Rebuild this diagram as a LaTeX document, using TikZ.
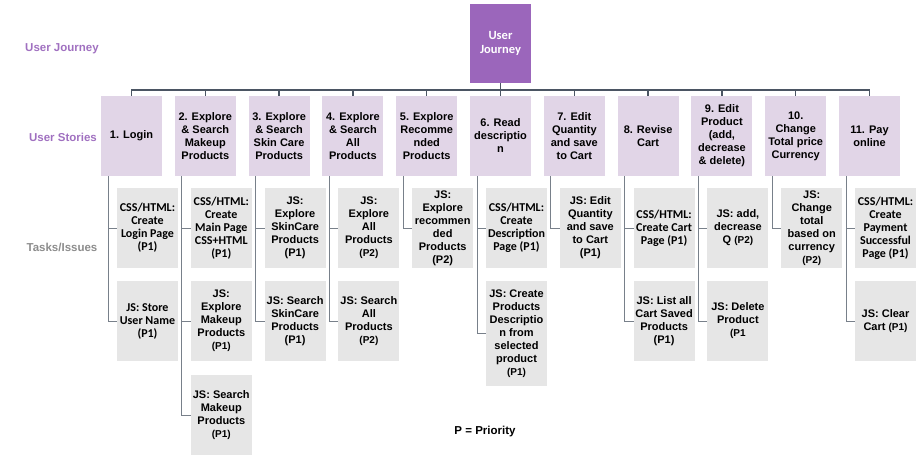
\documentclass[tikz,border=0pt]{standalone}
\usepackage{fontspec}
\setmainfont{Liberation Sans}
\newfontfamily\calfont{Carlito}
\usetikzlibrary{positioning}
\definecolor{journey}{HTML}{9B66BB}
\definecolor{storyfill}{HTML}{E1D5E7}
\definecolor{taskfill}{HTML}{E6E6E6}
\definecolor{wire}{HTML}{4B5563}
\definecolor{lilac}{HTML}{A070C0}
\definecolor{greytxt}{HTML}{8C8C8C}
\newcommand{\pri}[1]{{\fontsize{10}{13}\selectfont(#1)}}

\begin{document}
\begin{tikzpicture}[
  x=1pt, y=-1pt,
  font=\bfseries\fontsize{11}{13}\selectfont,
  root/.style={fill=journey, text=white, align=center, inner sep=0pt, outer sep=0pt,
    minimum width=61pt, minimum height=79pt, font={\fontsize{12.5}{14}\calfont\bfseries}},
  story/.style={fill=storyfill, align=center, inner sep=0pt, outer sep=0pt, minimum width=61pt, minimum height=80pt},
  task/.style={fill=taskfill, align=center, inner sep=0pt, outer sep=0pt, minimum width=61pt, minimum height=80pt, anchor=north west},
  taskc/.style={task, font={\fontsize{12}{13}\calfont\bfseries}},
  side/.style={font=\bfseries\fontsize{11.5}{13}\selectfont},
  wire/.style={draw=wire, line width=1.3pt},
  stub/.style={draw=wire!75, line width=0.9pt}
]
\useasboundingbox (0,0) rectangle (920,456);

% left labels
\node[side, text=lilac] (ljourney) at (62,49) {User Journey};
\node[side, text=lilac] (lstories) at (63,137) {User Stories};
\node[side, text=greytxt] (ltasks) at (62,247) {Tasks/Issues};
\node[side] (legend) at (485,432) {P = Priority};

% user journey
\node[root] (root) at (500.5,43.5) {User\\Journey};

% user stories
\node[story] (s1) at (131.5,136) {1. Login};
\node[story, right=12.8pt of s1] (s2) {2. Explore\\\& Search\\Makeup\\Products};
\node[story, right=12.8pt of s2] (s3) {3. Explore\\\& Search\\Skin Care\\Products};
\node[story, right=12.8pt of s3] (s4) {4. Explore\\\& Search\\All\\Products};
\node[story, right=12.8pt of s4] (s5) {5. Explore\\Recomme\\nded\\Products};
\node[story, right=12.8pt of s5] (s6) {6. Read\\descriptio\\n};
\node[story, right=12.8pt of s6] (s7) {7. Edit\\Quantity\\and save\\to Cart};
\node[story, right=12.8pt of s7] (s8) {8. Revise\\Cart};
\node[story, right=12.8pt of s8] (s9) {9. Edit\\Product\\(add,\\decrease\\\& delete)};
\node[story, right=12.8pt of s9] (s10) {10.\\Change\\Total price\\Currency};
\node[story, right=12.8pt of s10] (s11) {11. Pay\\online};

% tasks
\node[taskc] (t1a) at ([xshift=16pt,yshift=-12pt]s1.south west) {CSS/HTML:\\Create\\Login Page\\(P1)};
\node[taskc, below=13pt of t1a.south west, anchor=north west] (t1b) {JS: Store\\User Name\\(P1)};
\node[taskc] (t2a) at ([xshift=16pt,yshift=-12pt]s2.south west) {CSS/HTML:\\Create\\Main Page\\CSS+HTML\\(P1)};
\node[task, below=13pt of t2a.south west, anchor=north west] (t2b) {JS:\\Explore\\Makeup\\Products\\\pri{P1}};
\node[task, below=14pt of t2b.south west, anchor=north west] (t2c) {JS: Search\\Makeup\\Products\\\pri{P1}};
\node[task] (t3a) at ([xshift=16pt,yshift=-12pt]s3.south west) {JS:\\Explore\\SkinCare\\Products\\(P1)};
\node[task, below=13pt of t3a.south west, anchor=north west] (t3b) {JS: Search\\SkinCare\\Products\\(P1)};
\node[task] (t4a) at ([xshift=16pt,yshift=-12pt]s4.south west) {JS:\\Explore\\All\\Products\\\pri{P2}};
\node[task, below=13pt of t4a.south west, anchor=north west] (t4b) {JS: Search\\All\\Products\\\pri{P2}};
\node[task] (t5a) at ([xshift=16pt,yshift=-12pt]s5.south west) {JS:\\Explore\\recommen\\ded\\Products\\(P2)};
\node[taskc] (t6a) at ([xshift=16pt,yshift=-12pt]s6.south west) {CSS/HTML:\\Create\\Description\\Page (P1)};
\node[task, minimum height=105pt, below=13pt of t6a.south west, anchor=north west] (t6b) {JS: Create\\Products\\Descriptio\\n from\\selected\\product\\\pri{P1}};
\node[task] (t7a) at ([xshift=16pt,yshift=-12pt]s7.south west) {JS: Edit\\Quantity\\and save\\to Cart\\(P1)};
\node[taskc] (t8a) at ([xshift=16pt,yshift=-12pt]s8.south west) {CSS/HTML:\\Create Cart\\Page (P1)};
\node[task, below=13pt of t8a.south west, anchor=north west] (t8b) {JS: List all\\Cart Saved\\Products\\(P1)};
\node[task] (t9a) at ([xshift=16pt,yshift=-12pt]s9.south west) {JS: add,\\decrease\\Q \pri{P2}};
\node[task, below=13pt of t9a.south west, anchor=north west] (t9b) {JS: Delete\\Product\\{\fontsize{10}{13}\selectfont(P1}};
\node[task] (t10a) at ([xshift=16pt,yshift=-12pt]s10.south west) {JS:\\Change\\total\\based on\\currency\\\pri{P2}};
\node[taskc] (t11a) at ([xshift=16pt,yshift=-12pt]s11.south west) {CSS/HTML:\\Create\\Payment\\Successful\\Page (P1)};
\node[task, below=13pt of t11a.south west, anchor=north west] (t11b) {JS: Clear\\Cart \pri{P1}};

% journey to stories
\foreach \i in {1,...,11}
  \draw[wire] (root.south) |- ([yshift=6pt]s\i.north) -- (s\i.north);

% stories to tasks
\draw[stub] ([xshift=7pt]s1.south west) |- (t1a.west);
\draw[stub] ([xshift=7pt]s1.south west) |- (t1b.west);
\draw[stub] ([xshift=7pt]s2.south west) |- (t2a.west);
\draw[stub] ([xshift=7pt]s2.south west) |- (t2b.west);
\draw[stub] ([xshift=7pt]s2.south west) |- (t2c.west);
\draw[stub] ([xshift=7pt]s3.south west) |- (t3a.west);
\draw[stub] ([xshift=7pt]s3.south west) |- (t3b.west);
\draw[stub] ([xshift=7pt]s4.south west) |- (t4a.west);
\draw[stub] ([xshift=7pt]s4.south west) |- (t4b.west);
\draw[stub] ([xshift=7pt]s5.south west) |- (t5a.west);
\draw[stub] ([xshift=7pt]s6.south west) |- (t6a.west);
\draw[stub] ([xshift=7pt]s6.south west) |- (t6b.west);
\draw[stub] ([xshift=7pt]s7.south west) |- (t7a.west);
\draw[stub] ([xshift=7pt]s8.south west) |- (t8a.west);
\draw[stub] ([xshift=7pt]s8.south west) |- (t8b.west);
\draw[stub] ([xshift=7pt]s9.south west) |- (t9a.west);
\draw[stub] ([xshift=7pt]s9.south west) |- (t9b.west);
\draw[stub] ([xshift=7pt]s10.south west) |- (t10a.west);
\draw[stub] ([xshift=7pt]s11.south west) |- (t11a.west);
\draw[stub] ([xshift=7pt]s11.south west) |- (t11b.west);
\end{tikzpicture}
\end{document}
